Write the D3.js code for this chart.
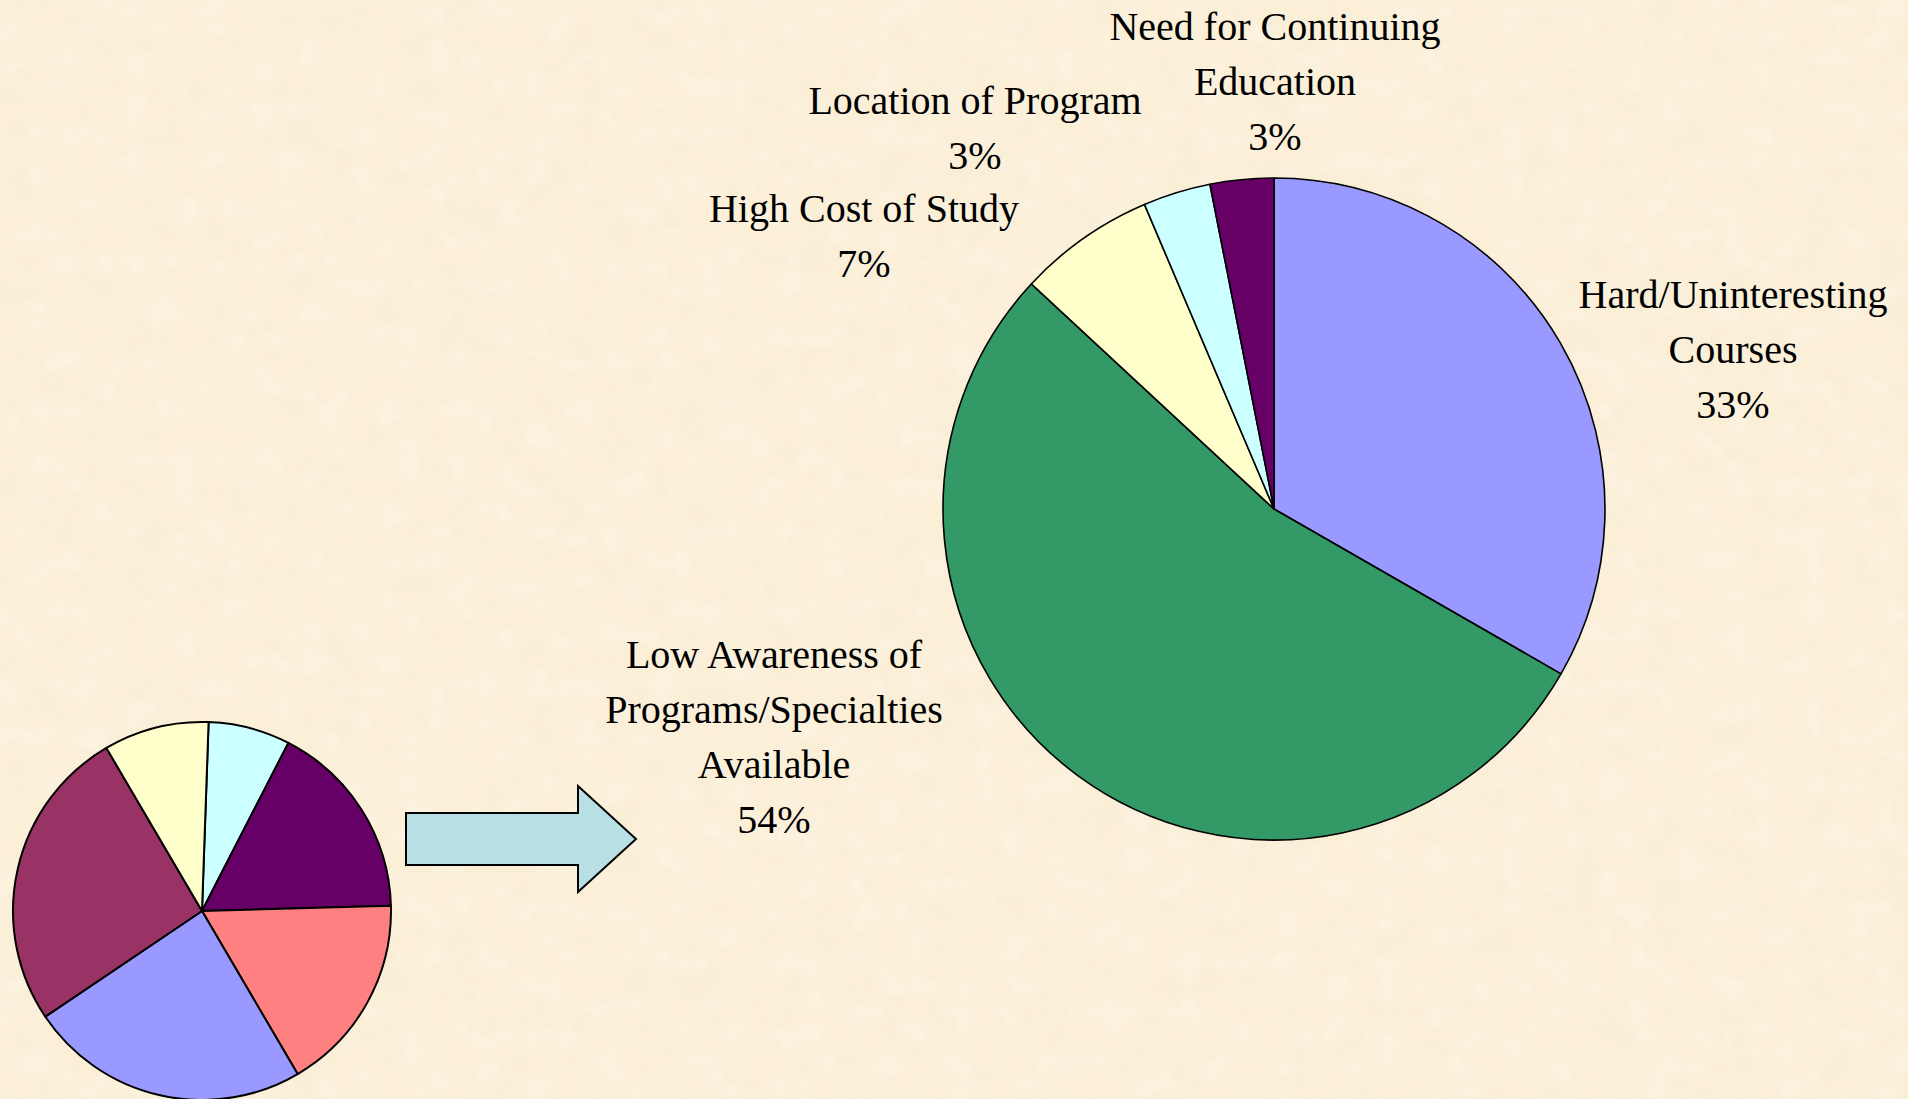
<!DOCTYPE html>
<html>
<head>
<meta charset="utf-8">
<script src="https://cdn.jsdelivr.net/npm/d3@7"></script>
<style>
  html, body { margin: 0; padding: 0; overflow: hidden; }
  svg { display: block; }
</style>
</head>
<body>
<div id="chart"></div>
<script>
// Big pie: reasons
const reasons = [
  ["Hard/Uninteresting", "Courses"],
  ["Low Awareness of", "Programs/Specialties", "Available"],
  ["High Cost of Study"],
  ["Location of Program"],
  ["Need for Continuing", "Education"],
]
const reasonValues = [33.3, 53.6, 6.7, 3.3, 3.1]
const reasonColors = ["#9999ff", "#339966", "#ffffcc", "#ccffff", "#660066"]

// Small pie (overview)
const overviewValues = [7, 17, 17, 24, 26, 9]
const overviewColors = ["#ccffff", "#660066", "#ff8080", "#9999ff", "#993366", "#ffffcc"]

const width = 1908
const height = 1099

// label anchor (center x, first baseline) for each big-pie slice
const labelAnchors = [
  [1733, 308],
  [774, 668],
  [864, 222],
  [975, 114],
  [1275, 40],
]

const svg = d3.select("#chart")
  .append("svg")
  .attr("width", width)
  .attr("height", height)
  .attr("viewBox", [0, 0, width, height])

// parchment background
const defs = svg.append("defs")
const paper = defs.append("filter")
  .attr("id", "paper")
  .attr("x", 0).attr("y", 0).attr("width", "100%").attr("height", "100%")
paper.append("feTurbulence")
  .attr("type", "fractalNoise")
  .attr("baseFrequency", 0.025)
  .attr("numOctaves", 4)
  .attr("seed", 7)
paper.append("feColorMatrix")
  .attr("type", "matrix")
  .attr("values", "0 0 0 0 0.92  0 0 0 0 0.83  0 0 0 0 0.64  1.1 0 0 0 -0.42")

const spots = defs.append("filter")
  .attr("id", "spots")
  .attr("x", 0).attr("y", 0).attr("width", "100%").attr("height", "100%")
spots.append("feTurbulence")
  .attr("type", "fractalNoise")
  .attr("baseFrequency", 0.04)
  .attr("numOctaves", 3)
  .attr("seed", 23)
spots.append("feColorMatrix")
  .attr("type", "matrix")
  .attr("values", "0 0 0 0 1  0 0 0 0 0.98  0 0 0 0 0.93  1.2 0 0 0 -0.55")

svg.append("rect")
  .attr("width", width)
  .attr("height", height)
  .attr("fill", "#fbefd8")
svg.append("rect")
  .attr("width", width)
  .attr("height", height)
  .attr("filter", "url(#paper)")
  .attr("opacity", 0.5)
svg.append("rect")
  .attr("width", width)
  .attr("height", height)
  .attr("filter", "url(#spots)")
  .attr("opacity", 0.6)

const pie = d3.pie().sort(null)

// small pie
const small = svg.append("g").attr("transform", "translate(202,911)")
const smallArc = d3.arc().innerRadius(0).outerRadius(189)
const startOffset = 2 * Math.PI / 180
small.selectAll("path")
  .data(pie.startAngle(startOffset).endAngle(2 * Math.PI + startOffset)(overviewValues))
  .join("path")
    .attr("d", smallArc)
    .attr("fill", (d, i) => overviewColors[i])
    .attr("stroke", "#000")
    .attr("stroke-width", 2)
    .attr("stroke-linejoin", "round")

// arrow
svg.append("path")
  .attr("d", "M406,813 L578,813 L578,786 L636,839 L578,892 L578,865 L406,865 Z")
  .attr("fill", "#b8e0e4")
  .attr("stroke", "#000")
  .attr("stroke-width", 2)

// big pie
const big = svg.append("g").attr("transform", "translate(1274,509)")
const bigArc = d3.arc().innerRadius(0).outerRadius(331)
big.selectAll("path")
  .data(pie.startAngle(0).endAngle(2 * Math.PI)(reasonValues))
  .join("path")
    .attr("d", bigArc)
    .attr("fill", (d, i) => reasonColors[i])
    .attr("stroke", "#000")
    .attr("stroke-width", 1.6)
    .attr("stroke-linejoin", "round")

// labels
const total = d3.sum(reasonValues)
const pct = d3.format(".0%")
const lineHeight = 55

svg.append("g")
  .attr("font-family", "'Liberation Serif', 'Times New Roman', serif")
  .attr("font-size", 40)
  .attr("text-anchor", "middle")
  .attr("fill", "#000")
  .selectAll("text")
  .data(reasons.map((lines, i) => ({ lines: [...lines, pct(reasonValues[i] / total)], at: labelAnchors[i] })))
  .join("text")
    .attr("transform", d => `translate(${d.at[0]},${d.at[1]})`)
  .selectAll("tspan")
  .data(d => d.lines)
  .join("tspan")
    .attr("x", 0)
    .attr("y", (d, i) => i * lineHeight)
    .text(d => d)
</script>
</body>
</html>
